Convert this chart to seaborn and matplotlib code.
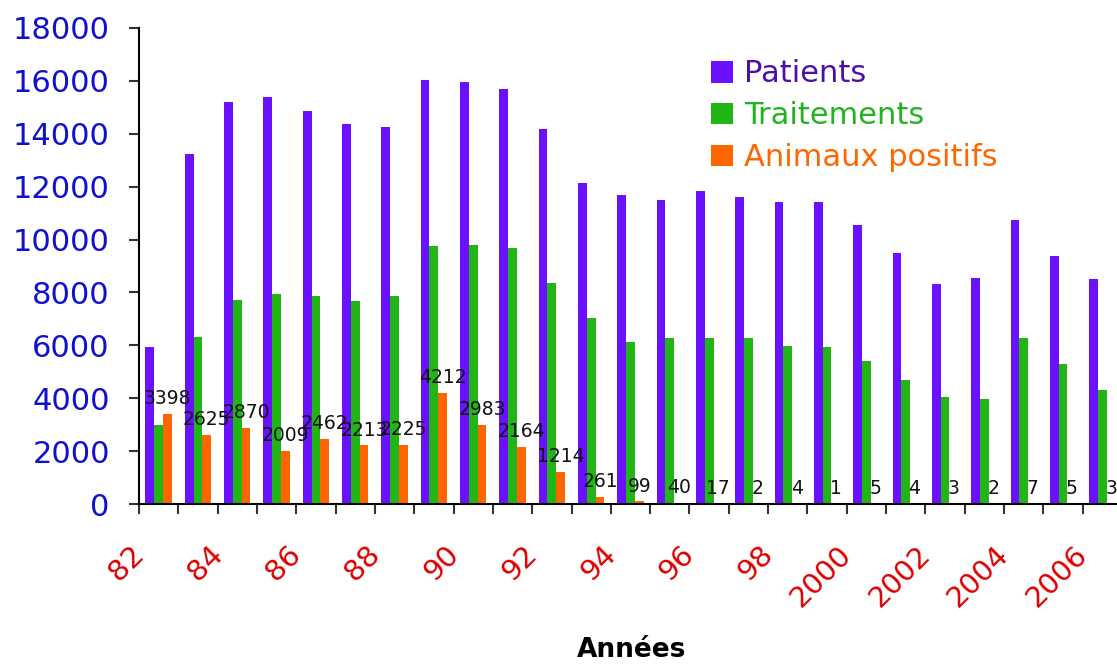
import matplotlib
matplotlib.use("Agg")
import matplotlib.pyplot as plt
import matplotlib.transforms as mtransforms
import numpy as np
import pandas as pd
import seaborn as sns
from matplotlib.patches import Patch

# Data
years = ["82", "83", "84", "85", "86", "87", "88", "89", "90", "91", "92", "93",
         "94", "95", "96", "97", "98", "99", "2000", "2001", "2002", "2003",
         "2004", "2005", "2006"]
patients = [5930, 13240, 15200, 15390, 14860, 14370, 14260, 16040, 15960, 15700,
            14180, 12140, 11690, 11500, 11840, 11610, 11420, 11420, 10550, 9490,
            8320, 8550, 10740, 9380, 8510]
traitements = [2990, 6320, 7720, 7940, 7870, 7680, 7870, 9760, 9800, 9680,
               8360, 7040, 6130, 6280, 6280, 6280, 5980, 5940, 5410, 4690,
               4050, 3970, 6280, 5300, 4310]
animaux_positifs = [3398, 2625, 2870, 2009, 2462, 2213, 2225, 4212, 2983, 2164,
                    1214, 261, 99, 40, 17, 2, 4, 1, 5, 4, 3, 2, 7, 5, 3]
series_names = ["Patients", "Traitements", "Animaux positifs"]

bar_colors = ["#6A12FF", "#21B515", "#FF6600"]
text_colors = ["#4E0FA8", "#22B322", "#FF6600"]

df = pd.DataFrame({
    "year": years * 3,
    "series": np.repeat(series_names, len(years)),
    "value": patients + traitements + animaux_positifs,
})

sns.set_theme(style="ticks")
plt.rcParams["font.family"] = ["DejaVu Sans"]

fig = plt.figure(figsize=(11.17, 6.68), dpi=100)
ax = fig.add_axes([0.1244, 0.2455, 0.8801, 0.7126])

sns.barplot(
    data=df, x="year", y="value", hue="series",
    order=years, hue_order=series_names,
    palette=bar_colors, saturation=1, width=0.67, linewidth=0,
    legend=False, ax=ax,
)

# value labels above the orange bars
for bar, val in zip(ax.containers[2], animaux_positifs):
    ax.annotate(
        f"{val}",
        (bar.get_x() + bar.get_width() / 2, bar.get_height()),
        xytext=(0, 7), textcoords="offset points",
        ha="center", va="baseline", fontsize=13.5, color="#111111",
    )

ax.set_xlim(-0.5, len(years) - 0.5)
ax.set_ylim(0, 18000)
ax.set_yticks(np.arange(0, 18001, 2000))
ax.tick_params(axis="y", labelsize=22, labelcolor="#1010D0", length=7,
               width=1.5, color="#333333", pad=14)

# labels every other year, tick marks on category boundaries
ax.set_xticks(range(len(years)))
ax.set_xticklabels([y if i % 2 == 0 else "" for i, y in enumerate(years)],
                   rotation=45, ha="right", va="top", rotation_mode="anchor")
ax.tick_params(axis="x", which="major", length=0, labelsize=21,
               labelcolor="#DD0000", pad=16)
shift = mtransforms.ScaledTranslation(-0.29, -0.14, fig.dpi_scale_trans)
for lbl in ax.get_xticklabels():
    lbl.set_transform(lbl.get_transform() + shift)
ax.set_xticks(np.arange(-0.5, len(years)), minor=True)
ax.tick_params(axis="x", which="minor", length=7, width=1.5, color="#333333")

ax.set_ylabel("")
ax.set_xlabel("")
fig.text(0.565, 0.017, "Années", ha="center", va="baseline",
         fontsize=19, fontweight="bold", color="black")

sns.despine(ax=ax)
for side in ["left", "bottom"]:
    ax.spines[side].set_color("black")
    ax.spines[side].set_linewidth(1.5)

handles = [Patch(facecolor=c, edgecolor="none") for c in bar_colors]
leg = ax.legend(
    handles, series_names, loc="upper left",
    bbox_to_anchor=(0.6365, 0.911), bbox_transform=fig.transFigure,
    frameon=False, fontsize=22, handlelength=0.72, handleheight=0.72,
    handletextpad=0.35, labelspacing=0.42, borderpad=0, borderaxespad=0,
)
for txt, c in zip(leg.get_texts(), text_colors):
    txt.set_color(c)

fig.savefig("out.png", dpi=100)
